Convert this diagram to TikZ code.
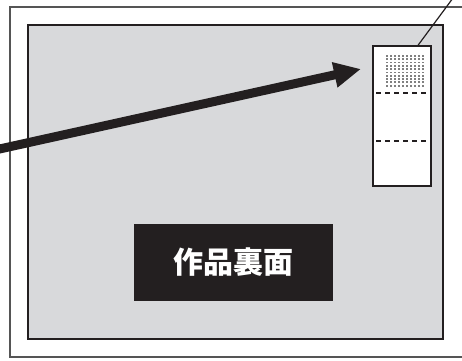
\documentclass[tikz,border=0pt]{standalone}
\usepackage{fontspec}
\newfontfamily\cjk{Noto Sans CJK JP}
\usepackage{tikz}
\usetikzlibrary{positioning}
\usetikzlibrary{arrows.meta}
\definecolor{inkblack}{HTML}{231F20}
\definecolor{sheetgray}{HTML}{D8D9DB}
\definecolor{framegray}{HTML}{555555}

\begin{document}
\begin{tikzpicture}[x=1pt, y=-1pt, >=Triangle, font=\cjk]
    \tikzstyle{sheet}=[draw=inkblack, fill=sheetgray, line width=2pt]
    \tikzstyle{tag}=[draw=inkblack, fill=white, line width=1.4pt, rectangle, minimum width=58pt, minimum height=140pt, inner sep=0pt]
    \tikzstyle{title}=[fill=inkblack, text=white, rectangle, minimum width=199pt, minimum height=77pt, inner sep=0pt, font=\cjk\bfseries\fontsize{30pt}{30pt}\selectfont]
    \tikzstyle{fold}=[draw=inkblack, line width=1.3pt, dash pattern=on 5pt off 4pt]

    \useasboundingbox (0,0) rectangle (462,360);

	%% Frame and sheet
    \draw[framegray, line width=1.5pt] (10,7) rectangle (480,357);
    \draw[sheet] (28,25) rectangle (443,339);

	%% Label on the back
    \node[tag] (tag) at (402,116) {};
    \draw[fold] ([xshift=4pt]tag.west |- 0,93) -- ([xshift=-3pt]tag.east |- 0,93);
    \draw[fold] ([xshift=4pt]tag.west |- 0,141) -- ([xshift=-3pt]tag.east |- 0,141);
    \foreach \i in {0,...,9} {
        \foreach \j in {0,...,9} {
            \fill[gray] (386+\i*4,55+\j*3.3) rectangle ++(1.8,1.8);
        }
    }

    \node[title] (title) at (233.5,262.5) {作品裏面};

	%% Pointer
    \coordinate (src) at (-5,150);
    \coordinate (tip) at (361,69);
    \coordinate (out) at (453,-2);
    \draw[-{Triangle[length=27pt, width=24pt]}, inkblack, line width=9pt] (src) -- (tip);
    \draw[inkblack, line width=1.2pt] ([xshift=16pt]tag.north) -- (out);
\end{tikzpicture}
\end{document}
